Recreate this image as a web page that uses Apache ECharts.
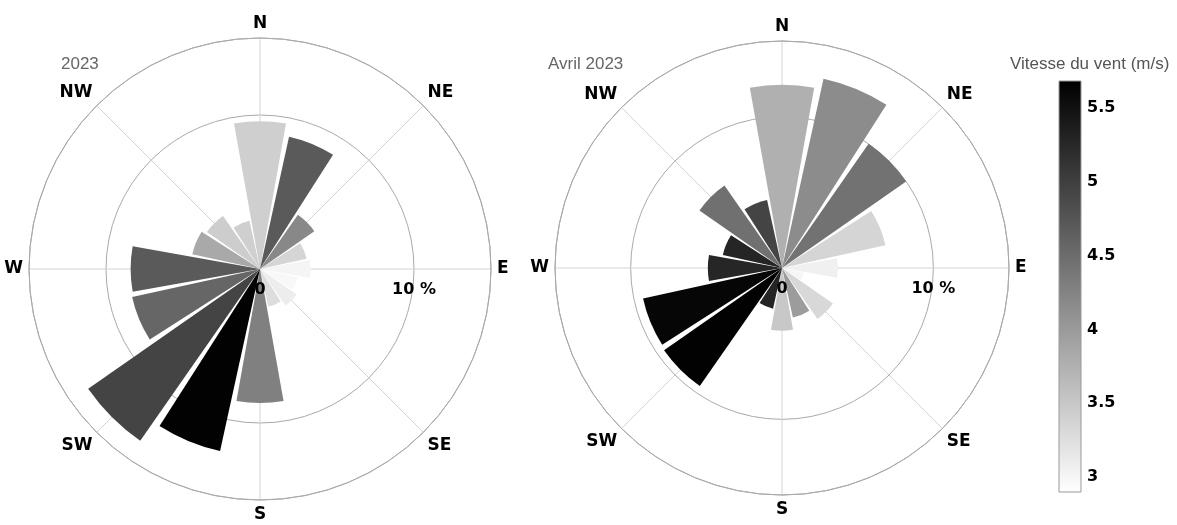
<!DOCTYPE html>
<html>
<head>
<meta charset="utf-8">
<script src="https://cdn.jsdelivr.net/npm/echarts@6/dist/echarts.min.js"></script>
<style>
  html, body { margin: 0; padding: 0; background: #ffffff; }
  #chart { width: 1177px; height: 525px; }
</style>
</head>
<body>
<div id="chart"></div>
<script>
// Wind directions, clockwise from north
const directions = ['N', 'NNE', 'NE', 'ENE', 'E', 'ESE', 'SE', 'SSE',
                    'S', 'SSW', 'SW', 'WSW', 'W', 'WNW', 'NW', 'NNW'];

// Year 2023: frequency of each direction (%) and mean wind speed (m/s)
const freq2023  = [9.6, 8.8, 4.3, 3.1, 3.3, 2.5, 2.9, 2.5, 8.7, 12.1, 13.6, 8.5, 8.4, 4.5, 4.2, 3.2];
const speed2023 = [3.42, 4.70, 4.20, 3.36, 3.01, 2.98, 3.10, 3.27, 4.28, 5.66, 4.94, 4.57, 4.70, 3.84, 3.44, 3.42];

// April 2023
const freqAvril  = [12.1, 12.8, 10.0, 7.0, 3.7, 1.5, 4.1, 3.35, 4.15, 2.75, 9.5, 9.4, 4.9, 4.0, 6.65, 4.6];
const speedAvril = [3.76, 4.15, 4.44, 3.36, 3.06, 3.00, 3.33, 3.98, 3.50, 5.29, 5.66, 5.62, 5.27, 5.28, 4.46, 4.94];

const panelTitles = ['2023', 'Avril 2023'];
const colorbarTitle = 'Vitesse du vent (m/s)';

// Radial scale (%) and wind-speed colour scale (m/s)
const radiusMax = 15;
const radiusTicks = [0, 10];
const speedMin = 2.9;
const speedMax = 5.68;
const speedTicks = [3, 3.5, 4, 4.5, 5, 5.5];

const BOLD_FONT = 'DejaVu Sans';
const TEXT_FONT = 'Liberation Sans, Arial, sans-serif';
const SECTOR = 360 / directions.length;

const panels = [
  { center: [260, 269], radius: 231, freq: freq2023, speed: speed2023 },
  { center: [782, 268], radius: 227, freq: freqAvril, speed: speedAvril }
];

const polar = [], angleAxis = [], radiusAxis = [], series = [];

panels.forEach((p, i) => {
  const base = 3 * i;
  const gridIdx = base, barIdx = base + 1, labelIdx = base + 2;

  // Three stacked polar systems per rose: compass grid, bars, radial tick labels
  for (let k = 0; k < 3; k++) polar.push({ center: p.center, radius: [0, p.radius] });

  // Compass grid: bearings in degrees, north at the top, clockwise
  angleAxis.push({
    polarIndex: gridIdx,
    type: 'value',
    min: 0, max: 360, interval: 45,
    startAngle: 90,
    clockwise: true,
    axisLine: { show: true, lineStyle: { color: '#aaaaaa', width: 1 } },
    axisTick: { show: false },
    axisLabel: {
      margin: 6, color: '#000',
      fontFamily: BOLD_FONT, fontWeight: 'bold', fontSize: 17,
      formatter: v => (v >= 360 ? '' : directions[Math.round(v / SECTOR) % directions.length])
    },
    splitLine: { show: true, lineStyle: { color: '#d4d4d4', width: 1 } }
  });
  radiusAxis.push({
    polarIndex: gridIdx,
    type: 'value',
    min: 0, max: radiusMax, interval: 10,
    axisLine: { show: false },
    axisTick: { show: false },
    axisLabel: { show: false },
    splitLine: { show: true, lineStyle: { color: '#aaaaaa', width: 1 } }
  });

  // Bars: one sector per direction, centred on its bearing
  angleAxis.push({
    polarIndex: barIdx,
    type: 'category',
    data: directions,
    boundaryGap: true,
    startAngle: 90 + SECTOR / 2,
    clockwise: true,
    show: false
  });
  radiusAxis.push({
    polarIndex: barIdx,
    type: 'value',
    min: 0, max: radiusMax,
    show: false
  });

  // Radial tick labels along the east line, drawn above the bars
  angleAxis.push({
    polarIndex: labelIdx,
    type: 'value',
    min: 0, max: 360,
    startAngle: 0,
    show: false
  });
  radiusAxis.push({
    polarIndex: labelIdx,
    type: 'value',
    min: 0, max: radiusMax, interval: 10,
    z: 10,
    axisLine: { show: false },
    axisTick: { show: false },
    splitLine: { show: false },
    axisLabel: {
      show: true, margin: -21, color: '#000',
      align: 'center', verticalAlign: 'middle',
      fontFamily: BOLD_FONT, fontWeight: 'bold', fontSize: 16,
      formatter: v => (radiusTicks.indexOf(v) < 0 ? '' : (v === 0 ? '0' : v + ' %'))
    }
  });

  series.push({
    type: 'bar',
    coordinateSystem: 'polar',
    polarIndex: barIdx,
    barCategoryGap: '10%',
    encode: { radius: 0, angle: 1 },
    data: directions.map((d, k) => [p.freq[k], d, p.speed[k]])
  });
});

const titleStyle = { fontFamily: TEXT_FONT, fontSize: 17, fontWeight: 'normal', color: '#666' };

const chart = echarts.init(document.getElementById('chart'), null, { renderer: 'canvas' });

chart.setOption({
  backgroundColor: '#ffffff',
  animation: false,
  title: [
    { text: panelTitles[0], left: 61, top: 56, padding: 0, textStyle: titleStyle },
    { text: panelTitles[1], left: 548, top: 56, padding: 0, textStyle: titleStyle },
    { text: colorbarTitle, left: 1010, top: 56, padding: 0,
      textStyle: Object.assign({}, titleStyle, { color: '#555' }) }
  ],
  polar: polar,
  angleAxis: angleAxis,
  radiusAxis: radiusAxis,
  // Colour bar: a grid filled with the same white-to-black ramp used for the bars
  grid: [{
    left: 1059, top: 81, width: 22, height: 411,
    show: true,
    backgroundColor: new echarts.graphic.LinearGradient(0, 0, 0, 1, [
      { offset: 0, color: '#000000' },
      { offset: 1, color: '#ffffff' }
    ]),
    borderColor: '#999', borderWidth: 1,
    outerBoundsMode: 'none'
  }],
  xAxis: [{ gridIndex: 0, type: 'value', show: false, min: 0, max: 1 }],
  yAxis: [{
    gridIndex: 0, type: 'value', position: 'right',
    min: speedMin, max: speedMax,
    axisLine: { show: false }, axisTick: { show: false }, splitLine: { show: false },
    axisLabel: {
      customValues: speedTicks, margin: 6, color: '#000',
      fontFamily: BOLD_FONT, fontWeight: 'bold', fontSize: 16
    }
  }],
  visualMap: {
    type: 'continuous',
    show: false,
    min: speedMin, max: speedMax,
    dimension: 2,
    seriesIndex: [0, 1],
    inRange: { color: ['#ffffff', '#000000'] }
  },
  series: series
});
</script>
</body>
</html>
